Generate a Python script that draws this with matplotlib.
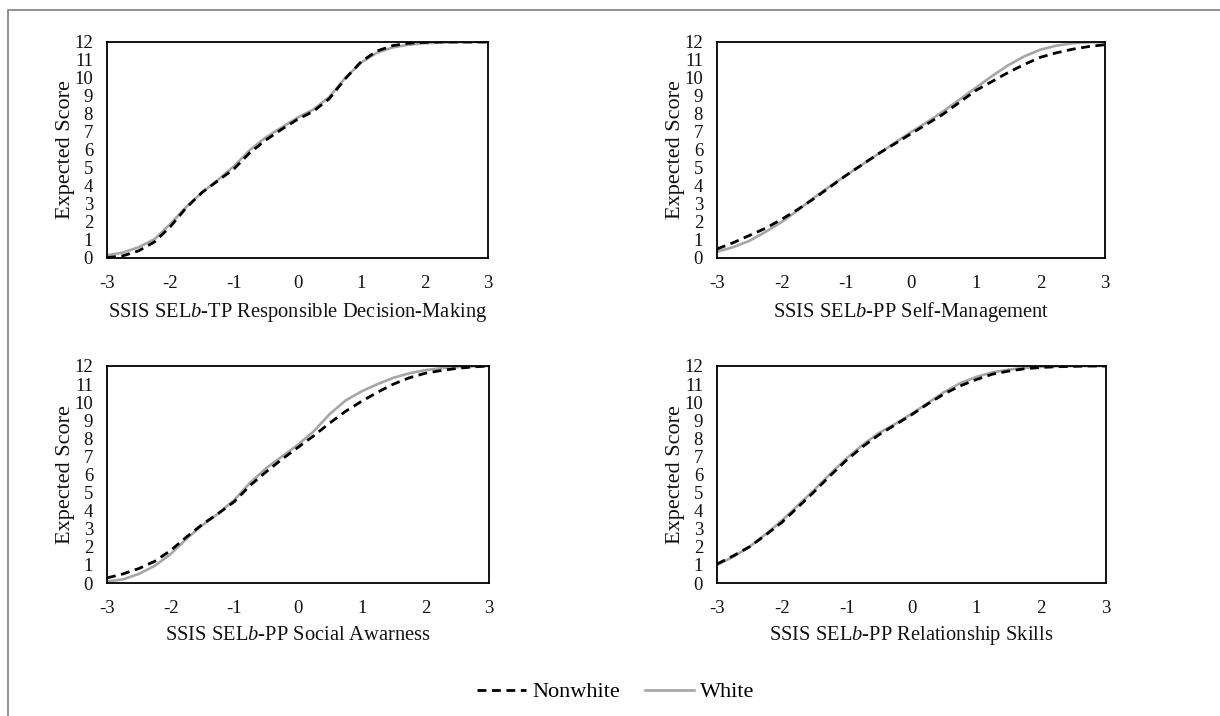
import numpy as np
import matplotlib
matplotlib.use("Agg")
import matplotlib.pyplot as plt
from matplotlib.lines import Line2D
from matplotlib.patches import Rectangle

plt.rcParams['font.family'] = ['Liberation Serif', 'DejaVu Serif']
plt.rcParams['mathtext.fontset'] = 'custom'
plt.rcParams['mathtext.it'] = 'Liberation Serif:italic'
plt.rcParams['mathtext.rm'] = 'Liberation Serif'

theta = [-3, -2.75, -2.5, -2.25, -2, -1.75, -1.5, -1.25, -1, -0.75, -0.5, -0.25,
         0, 0.25, 0.5, 0.75, 1, 1.25, 1.5, 1.75, 2, 2.25, 2.5, 2.75, 3]

titles = [r"SSIS SEL$\mathit{b}$-TP Responsible Decision-Making",
          r"SSIS SEL$\mathit{b}$-PP Self-Management",
          r"SSIS SEL$\mathit{b}$-PP Social Awarness",
          r"SSIS SEL$\mathit{b}$-PP Relationship Skills"]

rdm_white = [0.15, 0.3, 0.6, 1.05, 1.9, 2.85, 3.65, 4.35, 5.1, 6.0, 6.7, 7.25,
             7.8, 8.25, 8.95, 10.0, 10.85, 11.4, 11.7, 11.85, 11.93, 11.97, 11.99, 12.0, 12.0]
rdm_nonwhite = [0.02, 0.12, 0.4, 0.9, 1.75, 2.8, 3.65, 4.3, 4.95, 5.85, 6.55, 7.15,
                7.7, 8.15, 8.85, 9.95, 10.9, 11.5, 11.8, 11.93, 11.98, 12.0, 12.0, 12.0, 12.0]

sm_white = [0.35, 0.6, 0.95, 1.45, 2.0, 2.65, 3.35, 4.0, 4.6, 5.2, 5.8, 6.4,
            7.0, 7.55, 8.15, 8.8, 9.45, 10.1, 10.7, 11.2, 11.57, 11.8, 11.93, 11.98, 12.0]
sm_nonwhite = [0.5, 0.85, 1.25, 1.65, 2.15, 2.7, 3.3, 3.95, 4.6, 5.2, 5.8, 6.35,
               6.9, 7.45, 8.0, 8.65, 9.3, 9.8, 10.3, 10.75, 11.15, 11.4, 11.6, 11.75, 11.85]

sa_white = [0.08, 0.2, 0.5, 0.95, 1.6, 2.45, 3.2, 3.85, 4.6, 5.55, 6.35, 7.0,
            7.65, 8.4, 9.35, 10.1, 10.6, 11.0, 11.35, 11.6, 11.77, 11.88, 11.94, 11.98, 12.0]
sa_nonwhite = [0.28, 0.5, 0.8, 1.2, 1.8, 2.55, 3.25, 3.85, 4.5, 5.4, 6.15, 6.85,
               7.5, 8.15, 8.85, 9.5, 10.05, 10.55, 11.0, 11.35, 11.6, 11.75, 11.87, 11.95, 12.0]

rs_white = [1.0, 1.45, 2.0, 2.7, 3.45, 4.3, 5.15, 6.05, 6.9, 7.65, 8.3, 8.8,
            9.35, 9.95, 10.55, 11.05, 11.4, 11.65, 11.8, 11.9, 11.95, 11.98, 12.0, 12.0, 12.0]
rs_nonwhite = [1.05, 1.5, 2.0, 2.65, 3.35, 4.2, 5.05, 5.95, 6.8, 7.55, 8.2, 8.75,
               9.3, 9.9, 10.45, 10.9, 11.25, 11.55, 11.72, 11.85, 11.92, 11.96, 11.98, 12.0, 12.0]

nonwhite_series = [rdm_nonwhite, sm_nonwhite, sa_nonwhite, rs_nonwhite]
white_series = [rdm_white, sm_white, sa_white, rs_white]

x_ticks = [-3, -2, -1, 0, 1, 2, 3]
y_ticks = list(range(0, 13))

W, H = 1220, 716
fig = plt.figure(figsize=(W / 100, H / 100), dpi=100)

# outer frame (only top/left visible)
fig.patches.append(Rectangle((8 / W, -0.1), 1.2, 1 - 10 / H + 0.1, transform=fig.transFigure,
                             fill=False, edgecolor='#7f7f7f', linewidth=1.2))

boxes = [(107, 42, 488, 258), (717, 42, 1105, 258),
         (107, 366, 489, 583), (717, 366, 1106, 583)]
xlabel_baseline = [317, 317, 640, 640]

DASH = (3.2, 2.0)

for i, (l, t, r, b) in enumerate(boxes):
    ax = fig.add_axes([l / W, 1 - b / H, (r - l) / W, (b - t) / H])
    ax.plot(theta, white_series[i], color='#a6a6a6', lw=1.9, solid_capstyle='butt', zorder=2)
    ax.plot(theta, nonwhite_series[i], color='black', lw=2.0, dashes=DASH, zorder=3)
    ax.set_xlim(-3, 3)
    ax.set_ylim(0, 12)
    ax.set_xticks(x_ticks)
    ax.set_xticklabels([str(v) for v in x_ticks])
    ax.set_yticks(y_ticks)
    ax.tick_params(length=0, labelsize=13.5, colors='#111111')
    ax.tick_params(axis='x', pad=12)
    ax.tick_params(axis='y', pad=10)
    for s in ax.spines.values():
        s.set_linewidth(1.3)
        s.set_color('black')
    ax.set_xlabel(titles[i], fontsize=14.8, color='#111111')
    ax.xaxis.label.set_va('baseline')
    ax.xaxis.set_label_coords(0.5, -(xlabel_baseline[i] - b) / (b - t))
    ax.set_ylabel("Expected Score", fontsize=16, color='#111111')
    ax.yaxis.set_label_coords(-32 / (r - l), 0.5)

handles = [Line2D([], [], color='black', lw=2.0, dashes=DASH),
           Line2D([], [], color='#a6a6a6', lw=1.9)]
fig.legend(handles, ["Nonwhite", "White"], loc='center', bbox_to_anchor=(616 / W, 1 - 692 / H),
           ncol=2, frameon=False, fontsize=16, handlelength=2.2, handletextpad=0.3,
           columnspacing=1.1)

fig.savefig("out.png", dpi=100)
